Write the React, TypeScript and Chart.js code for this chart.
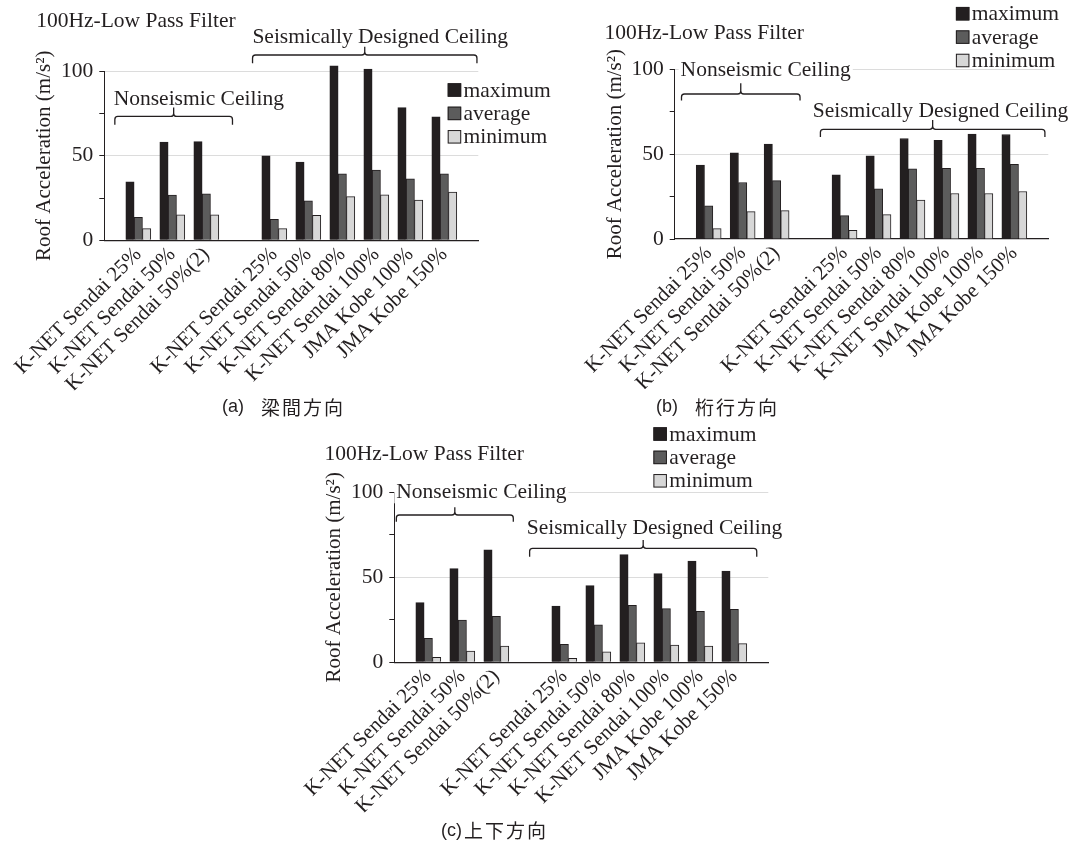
import React, { useEffect, useRef } from 'react';
import { Chart, registerables } from 'chart.js';

Chart.register(...registerables);

const SERIF = '"Liberation Serif", "Times New Roman", serif';
const SANS = '"Liberation Sans", Arial, sans-serif';
const CJK = '"Noto Sans CJK JP", "Noto Sans CJK SC", sans-serif';
const INK = '#231f20';
const GRID = '#dcdcdc';

// Record names on the horizontal axis
const nonseismicRuns = ['K-NET Sendai 25%', 'K-NET Sendai 50%', 'K-NET Sendai 50%(2)'];
const seismicRuns = [
  'K-NET Sendai 25%',
  'K-NET Sendai 50%',
  'K-NET Sendai 80%',
  'K-NET Sendai 100%',
  'JMA Kobe 100%',
  'JMA Kobe 150%',
];

const seriesNames = ['maximum', 'average', 'minimum'];
const seriesColors = [INK, '#5c5c5c', '#d7d7d7'];

const yLabelled = [0, 50, 100];
const FILTER_NOTE = '100Hz-Low Pass Filter';
const Y_TITLE = 'Roof Acceleration (m/s\u00B2)';
const NONSEISMIC = 'Nonseismic Ceiling';
const SEISMIC = 'Seismically Designed Ceiling';

// (a) 梁間方向 — roof acceleration, m/s²
const spanMax = [34.6, 58.0, 58.3, 49.9, 46.2, 103.1, 101.2, 78.4, 72.9];
const spanAvg = [13.6, 26.7, 27.5, 12.4, 23.4, 39.3, 41.5, 36.4, 39.3];
const spanMin = [6.9, 15.0, 15.0, 6.9, 14.7, 25.8, 26.9, 23.8, 28.5];

// (b) 桁行方向
const girderMax = [43.5, 50.8, 55.9, 37.8, 49.0, 59.2, 58.2, 61.8, 61.6];
const girderAvg = [19.5, 33.3, 34.4, 13.8, 29.5, 41.3, 41.7, 41.7, 44.0];
const girderMin = [6.1, 16.1, 16.7, 5.1, 14.4, 23.0, 26.8, 26.8, 28.0];

// (c) 上下方向
const verticalMax = [35.1, 55.1, 66.1, 33.1, 45.1, 63.3, 52.2, 59.5, 53.6];
const verticalAvg = [14.1, 24.9, 27.1, 10.6, 22.0, 33.5, 31.6, 30.0, 31.1];
const verticalMin = [2.9, 6.6, 9.6, 2.4, 6.1, 11.4, 10.1, 9.6, 11.0];

// Axis slots: blank, three nonseismic runs, blank, six seismic runs, blank
const slotLabels = ['', ...nonseismicRuns, '', ...seismicRuns, ''];
const toSlots = (v: number[]) => {
  const n = nonseismicRuns.length;
  return [null, ...v.slice(0, n), null, ...v.slice(n), null];
};

type Bracket = {
  text: string;
  textX: number;
  textY: number;
  from: number;
  to: number;
  lineY: number;
  endY: number;
  tipY: number;
};

type Panel = {
  id: string;
  prefix: string;
  direction: string;
  series: number[][];
  left: number;
  top: number;
  width: number;
  height: number;
  pad: { left: number; right: number; top: number; bottom: number };
  filter: [number, number];
  brackets: Bracket[];
  legend: { x: number; y: number };
  caption: { x: number; y: number; gap: number };
};

const panels: Panel[] = [
  {
    id: 'a',
    prefix: '(a)',
    direction: '梁間方向',
    series: [spanMax, spanAvg, spanMin],
    left: 0,
    top: 0,
    width: 560,
    height: 418,
    pad: { left: 32.3, right: 81.7, top: 71.1, bottom: 27.7 },
    filter: [36.2, 27.3],
    brackets: [
      { text: NONSEISMIC, textX: 113.7, textY: 105, from: 0.31, to: 3.77, lineY: 116.4, endY: 124.7, tipY: 107.5 },
      { text: SEISMIC, textX: 252.4, textY: 42.7, from: 4.36, to: 10.96, lineY: 55, endY: 63.3, tipY: 46.7 },
    ],
    legend: { x: 447.7, y: 90 },
    caption: { x: 222, y: 407.5, gap: 17 },
  },
  {
    id: 'b',
    prefix: '(b)',
    direction: '桁行方向',
    series: [girderMax, girderAvg, girderMin],
    left: 560,
    top: 0,
    width: 511,
    height: 418,
    pad: { left: 42.7, right: 22.7, top: 69.3, bottom: 29 },
    filter: [44.4, 39.3],
    brackets: [
      { text: NONSEISMIC, textX: 120.6, textY: 76, from: 0.2, to: 3.69, lineY: 94, endY: 100.5, tipY: 83.3 },
      { text: SEISMIC, textX: 252.7, textY: 116.5, from: 4.29, to: 10.9, lineY: 129.3, endY: 137, tipY: 120 },
    ],
    legend: { x: 395.9, y: 13.7 },
    caption: { x: 96, y: 407.5, gap: 17 },
  },
  {
    id: 'c',
    prefix: '(c)',
    direction: '上下方向',
    series: [verticalMax, verticalAvg, verticalMin],
    left: 280,
    top: 418,
    width: 520,
    height: 425,
    pad: { left: 42.3, right: 31.7, top: 74.3, bottom: 30.7 },
    filter: [44.5, 42],
    brackets: [
      { text: NONSEISMIC, textX: 116.3, textY: 80.3, from: 0.06, to: 3.5, lineY: 97, endY: 103.7, tipY: 89.3 },
      { text: SEISMIC, textX: 246.7, textY: 116, from: 3.98, to: 10.66, lineY: 130.3, endY: 138.7, tipY: 122 },
    ],
    legend: { x: 373.4, y: 16 },
    caption: { x: 161, y: 413, gap: 2 },
  },
];

function drawBrace(
  ctx: CanvasRenderingContext2D,
  x1: number,
  x2: number,
  lineY: number,
  endY: number,
  tipY: number
) {
  const xc = (x1 + x2) / 2;
  const r = 3;
  ctx.beginPath();
  ctx.moveTo(x1, endY);
  ctx.lineTo(x1, lineY + r);
  ctx.quadraticCurveTo(x1, lineY, x1 + r, lineY);
  ctx.lineTo(xc - r, lineY);
  ctx.quadraticCurveTo(xc, lineY, xc, lineY - r);
  ctx.lineTo(xc, tipY);
  ctx.moveTo(xc, lineY - r);
  ctx.quadraticCurveTo(xc, lineY, xc + r, lineY);
  ctx.lineTo(x2 - r, lineY);
  ctx.quadraticCurveTo(x2, lineY, x2, lineY + r);
  ctx.lineTo(x2, endY);
  ctx.stroke();
}

function makeOverlay(p: Panel) {
  return {
    id: 'overlay-' + p.id,
    afterDraw(chart: Chart) {
      const ctx = chart.ctx;
      const xs = chart.scales.x;
      ctx.save();
      ctx.fillStyle = INK;
      ctx.strokeStyle = INK;
      ctx.textAlign = 'left';
      ctx.textBaseline = 'alphabetic';

      ctx.font = `21.5px ${SERIF}`;
      ctx.fillText(FILTER_NOTE, p.filter[0], p.filter[1]);

      ctx.lineWidth = 1.3;
      for (const b of p.brackets) {
        const w = ctx.measureText(b.text).width;
        ctx.fillStyle = '#ffffff';
        ctx.fillRect(b.textX - 2, b.textY - 16, w + 4, 21);
        ctx.fillStyle = INK;
        ctx.fillText(b.text, b.textX, b.textY);
        drawBrace(ctx, xs.getPixelForValue(b.from), xs.getPixelForValue(b.to), b.lineY, b.endY, b.tipY);
      }

      // legend keys built from the datasets
      const size = 13.5;
      ctx.lineWidth = 1;
      ctx.textBaseline = 'middle';
      chart.data.datasets.forEach((ds, i) => {
        const yc = p.legend.y + i * 23.4;
        ctx.fillStyle = ds.backgroundColor as string;
        ctx.fillRect(p.legend.x, yc - size / 2, size, size);
        ctx.strokeStyle = INK;
        ctx.strokeRect(p.legend.x + 0.5, yc - size / 2 + 0.5, size - 1, size - 1);
        ctx.fillStyle = INK;
        ctx.fillText(String(ds.label), p.legend.x + size + 2.3, yc + 1);
      });

      // caption
      ctx.font = `18px ${SANS}`;
      ctx.fillText(p.prefix, p.caption.x, p.caption.y);
      const pw = ctx.measureText(p.prefix).width;
      ctx.font = `19px ${CJK}`;
      (ctx as any).letterSpacing = '2px';
      ctx.fillText(p.direction, p.caption.x + pw + p.caption.gap, p.caption.y);
      (ctx as any).letterSpacing = '0px';
      ctx.restore();
    },
  };
}

function PanelChart({ panel }: { panel: Panel }) {
  const ref = useRef<HTMLCanvasElement>(null);
  useEffect(() => {
    const canvas = ref.current;
    if (!canvas) return;
    const chart = new Chart(canvas, {
      type: 'bar',
      data: {
        labels: slotLabels,
        datasets: panel.series.map((values, i) => ({
          label: seriesNames[i],
          data: toSlots(values),
          backgroundColor: seriesColors[i],
          borderColor: INK,
          borderWidth: 1,
          barThickness: 8.33,
          clip: false as any,
        })),
      },
      options: {
        responsive: false,
        animation: false,
        devicePixelRatio: 1,
        layout: { padding: panel.pad },
        plugins: { legend: { display: false }, tooltip: { enabled: false } },
        scales: {
          x: {
            type: 'category',
            offset: false,
            grid: { display: false, drawTicks: false },
            border: { display: true, color: INK, width: 1.3 },
            ticks: {
              autoSkip: false,
              maxRotation: 45,
              minRotation: 45,
              padding: 2,
              color: INK,
              font: { family: SERIF, size: 21 },
            },
            afterFit: (s: any) => {
              s.height = 150;
            },
          },
          y: {
            min: 0,
            max: 100,
            ticks: {
              stepSize: 25,
              padding: 6,
              color: INK,
              font: { family: SERIF, size: 21.5 },
              callback: (v: any) => (yLabelled.includes(Number(v)) ? String(v) : ''),
            },
            grid: {
              color: (c: any) =>
                c.tick && c.tick.value > 0 && c.tick.value % 50 === 0 ? GRID : 'rgba(0,0,0,0)',
              tickColor: INK,
              tickLength: 5,
              lineWidth: 1,
            },
            border: { display: true, color: INK, width: 1 },
            title: {
              display: true,
              text: Y_TITLE,
              color: INK,
              padding: 0,
              font: { family: SERIF, size: 21 },
            },
            afterFit: (s: any) => {
              s.width = 72;
            },
          },
        },
      },
      plugins: [makeOverlay(panel)],
    } as any);
    return () => chart.destroy();
  }, [panel]);
  return (
    <canvas
      ref={ref}
      width={panel.width}
      height={panel.height}
      style={{
        position: 'absolute',
        left: panel.left,
        top: panel.top,
        width: panel.width,
        height: panel.height,
      }}
    />
  );
}

export default function App() {
  return (
    <div
      style={{
        position: 'absolute',
        left: 0,
        top: 0,
        width: 1071,
        height: 843,
        background: '#ffffff',
        overflow: 'hidden',
      }}
    >
      {panels.map((p) => (
        <PanelChart key={p.id} panel={p} />
      ))}
    </div>
  );
}
